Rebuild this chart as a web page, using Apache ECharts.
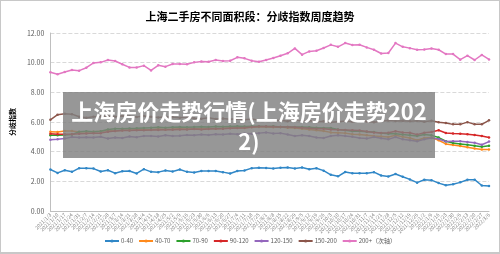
<!DOCTYPE html>
<html lang="zh">
<head>
<meta charset="UTF-8">
<title>上海二手房不同面积段：分歧指数周度趋势</title>
<script src="https://cdn.jsdelivr.net/npm/echarts@6/dist/echarts.min.js"></script>
<style>
    html, body { margin: 0; padding: 0; background: #fff; }
    #wrap { position: relative; width: 500px; height: 254px; box-sizing: border-box; border: 1px solid #c8c8c8; border-bottom-width: 2px; }
    #main { position: absolute; left: 0; top: 0; width: 498px; height: 251px; }
    #cover {
        position: absolute; left: 62px; top: 91px; width: 372px; height: 66px;
        background: rgba(128, 128, 128, 0.82); color: #fff;
        font-family: "Noto Sans CJK SC", sans-serif; font-weight: bold;
        font-size: 22px; line-height: 30px; text-align: center;
        padding-top: 3px; box-sizing: border-box; word-break: break-all;
    }
</style>
</head>
<body>
<div id="wrap">
    <div id="main"></div>
    <div id="cover">上海房价走势行情(上海房价走势2022)</div>
</div>

<script type="text/javascript">
    // 周度日期
    var weeks = [
        '2021/1/3', '2021/1/10', '2021/1/17', '2021/1/24', '2021/1/31', '2021/2/7', '2021/2/14', '2021/2/21',
        '2021/2/28', '2021/3/7', '2021/3/14', '2021/3/21', '2021/3/28', '2021/4/4', '2021/4/11', '2021/4/18',
        '2021/4/25', '2021/5/2', '2021/5/9', '2021/5/16', '2021/5/23', '2021/5/30', '2021/6/6', '2021/6/13',
        '2021/6/20', '2021/6/27', '2021/7/4', '2021/7/11', '2021/7/18', '2021/7/25', '2021/8/1', '2021/8/8',
        '2021/8/15', '2021/8/22', '2021/8/29', '2021/9/5', '2021/9/12', '2021/9/19', '2021/9/26', '2021/10/3',
        '2021/10/10', '2021/10/17', '2021/10/24', '2021/10/31', '2021/11/7', '2021/11/14', '2021/11/21', '2021/11/28',
        '2021/12/5', '2021/12/12', '2021/12/19', '2021/12/26', '2022/1/2', '2022/1/9', '2022/1/16', '2022/1/23',
        '2022/1/30', '2022/2/6', '2022/2/13', '2022/2/20', '2022/2/27', '2022/3/6'
    ];

    var seriesNames = ['0-40', '40-70', '70-90', '90-120', '120-150', '150-200', '200+（次轴）'];

    var s0_40 = [2.80, 2.57, 2.75, 2.64, 2.89, 2.89, 2.86, 2.66, 2.75, 2.55, 2.68, 2.70, 2.53, 2.82, 2.64, 2.62,
        2.73, 2.66, 2.80, 2.64, 2.60, 2.70, 2.70, 2.70, 2.62, 2.53, 2.70, 2.73, 2.89, 2.91, 2.90, 2.87,
        2.91, 2.94, 2.86, 2.93, 2.82, 2.88, 2.72, 2.44, 2.34, 2.63, 2.55, 2.55, 2.55, 2.62, 2.39, 2.33,
        2.49, 2.31, 2.13, 1.91, 2.11, 2.08, 1.88, 1.74, 1.81, 1.93, 2.11, 2.11, 1.72, 1.69];

    var s40_70 = [5.35, 5.32, 5.39, 5.39, 5.33, 5.35, 5.35, 5.38, 5.42, 5.40, 5.45, 5.45, 5.48, 5.50, 5.48, 5.52,
        5.50, 5.52, 5.55, 5.52, 5.55, 5.55, 5.58, 5.55, 5.58, 5.60, 5.62, 5.60, 5.65, 5.66, 5.66, 5.64,
        5.66, 5.62, 5.60, 5.55, 5.50, 5.45, 5.40, 5.30, 5.28, 5.25, 5.18, 5.15, 5.10, 5.05, 5.02, 4.99,
        5.10, 5.00, 4.92, 4.77, 4.92, 4.95, 4.77, 4.52, 4.45, 4.38, 4.30, 4.21, 4.14, 4.14];

    var s70_90 = [5.10, 5.10, 5.12, 5.15, 5.35, 5.37, 5.35, 5.38, 5.50, 5.55, 5.55, 5.57, 5.58, 5.60, 5.62, 5.64,
        5.62, 5.65, 5.66, 5.64, 5.66, 5.68, 5.66, 5.70, 5.68, 5.70, 5.72, 5.70, 5.72, 5.72, 5.70, 5.72,
        5.66, 5.66, 5.66, 5.66, 5.64, 5.62, 5.60, 5.59, 5.50, 5.45, 5.37, 5.37, 5.35, 5.32, 5.25, 5.21,
        5.21, 5.15, 5.10, 5.05, 5.15, 5.10, 4.95, 4.70, 4.58, 4.52, 4.46, 4.40, 4.33, 4.40];

    var s90_120 = [5.20, 5.18, 5.17, 5.18, 5.20, 5.22, 5.25, 5.25, 5.35, 5.40, 5.42, 5.42, 5.44, 5.45, 5.46, 5.46,
        5.48, 5.48, 5.50, 5.50, 5.52, 5.50, 5.52, 5.54, 5.55, 5.58, 5.60, 5.62, 5.66, 5.70, 5.70, 5.68,
        5.66, 5.66, 5.64, 5.62, 5.58, 5.55, 5.54, 5.50, 5.48, 5.46, 5.44, 5.42, 5.36, 5.30, 5.26, 5.28,
        5.37, 5.30, 5.28, 5.15, 5.28, 5.32, 5.44, 5.26, 5.22, 5.20, 5.18, 5.12, 5.05, 4.95];

    var s120_150 = [4.80, 4.83, 4.88, 4.99, 4.95, 4.97, 4.95, 5.00, 4.88, 4.95, 4.92, 5.02, 4.98, 5.05, 5.05, 5.02,
        5.10, 5.05, 5.08, 5.12, 5.10, 5.15, 5.12, 5.18, 5.15, 5.20, 5.18, 5.22, 5.20, 5.25, 5.30, 5.22,
        5.25, 5.15, 5.05, 5.10, 5.05, 4.95, 4.92, 5.05, 5.10, 5.05, 5.00, 4.92, 4.88, 4.99, 4.90, 4.83,
        4.99, 4.83, 4.77, 4.70, 4.83, 4.92, 4.85, 4.68, 4.71, 4.70, 4.65, 4.60, 4.47, 4.68];

    var s150_200 = [6.15, 6.49, 6.56, 6.53, 6.35, 6.29, 6.35, 6.38, 6.40, 6.36, 6.42, 6.38, 6.33, 6.40, 6.35, 6.30,
        6.36, 6.32, 6.28, 6.33, 6.25, 6.22, 6.28, 6.20, 6.24, 6.18, 6.22, 6.15, 6.20, 6.12, 6.16, 6.08,
        6.12, 6.05, 6.15, 6.05, 6.10, 6.00, 6.05, 5.98, 6.02, 6.06, 6.02, 6.08, 6.04, 5.98, 6.05, 6.10,
        6.06, 6.08, 6.05, 6.08, 6.02, 6.08, 5.99, 5.93, 5.84, 5.84, 5.99, 5.84, 5.84, 6.11];

    var s200plus = [9.35, 9.22, 9.37, 9.51, 9.46, 9.66, 9.98, 10.02, 10.18, 10.11, 9.89, 9.68, 9.68, 9.80, 9.48, 9.82,
        9.73, 9.91, 9.91, 9.89, 10.02, 10.08, 10.06, 10.18, 10.11, 10.13, 10.36, 10.29, 10.13, 10.06, 10.18, 10.31,
        10.47, 10.63, 10.96, 10.54, 10.76, 10.80, 10.99, 11.20, 11.07, 11.32, 11.19, 11.21, 11.03, 10.87, 10.62, 10.65,
        11.32, 11.07, 10.98, 10.87, 10.89, 10.96, 10.87, 10.58, 10.58, 10.20, 10.47, 10.18, 10.52, 10.22];

    var yTicks = {min: 0, max: 12, interval: 2};
    var colors = ['#3087c7', '#ff8a1c', '#2ca02c', '#d62728', '#9467bd', '#8c564b', '#e377c2'];
    var allData = [s0_40, s40_70, s70_90, s90_120, s120_150, s150_200, s200plus];

    var font = '"Noto Sans CJK SC", sans-serif';
    var myChart = echarts.init(document.getElementById('main'));

    var series = seriesNames.map(function (name, k) {
        return {
            name: name,
            type: 'line',
            data: allData[k],
            symbol: 'circle',
            symbolSize: 2.5,
            lineStyle: {width: 1.5},
            itemStyle: {color: colors[k]}
        };
    });

    var option = {
        animation: false,
        color: colors,
        textStyle: {fontFamily: font},
        title: {
            text: '上海二手房不同面积段：分歧指数周度趋势',
            left: 'center',
            top: 5,
            textStyle: {fontSize: 11, fontWeight: 'bold', color: '#000', fontFamily: font}
        },
        grid: {left: 40, right: 10, top: 32, bottom: 41},
        legend: {
            data: seriesNames,
            bottom: 3,
            left: 'center',
            itemWidth: 14,
            itemHeight: 4,
            itemGap: 5,
            textStyle: {fontSize: 6, color: '#595959', fontFamily: font, padding: [0, 0, 0, -3]}
        },
        xAxis: {
            type: 'category',
            boundaryGap: false,
            data: weeks,
            axisLine: {lineStyle: {color: '#bfbfbf'}},
            axisTick: {show: false},
            axisLabel: {interval: 0, rotate: 45, fontSize: 5, color: '#7f7f7f', margin: 3}
        },
        yAxis: {
            type: 'value',
            min: yTicks.min,
            max: yTicks.max,
            interval: yTicks.interval,
            name: '分歧指数',
            nameLocation: 'middle',
            nameGap: 24,
            nameRotate: 90,
            nameTextStyle: {fontSize: 7, fontWeight: 'bold', color: '#000'},
            axisLine: {show: true, lineStyle: {color: '#bfbfbf'}},
            axisTick: {show: false},
            axisLabel: {
                fontSize: 7, color: '#595959', margin: 6,
                formatter: function (v) { return v.toFixed(2); }
            },
            splitLine: {lineStyle: {color: '#d9d9d9', type: 'dashed'}}
        },
        series: series
    };

    myChart.setOption(option);
</script>
</body>
</html>
